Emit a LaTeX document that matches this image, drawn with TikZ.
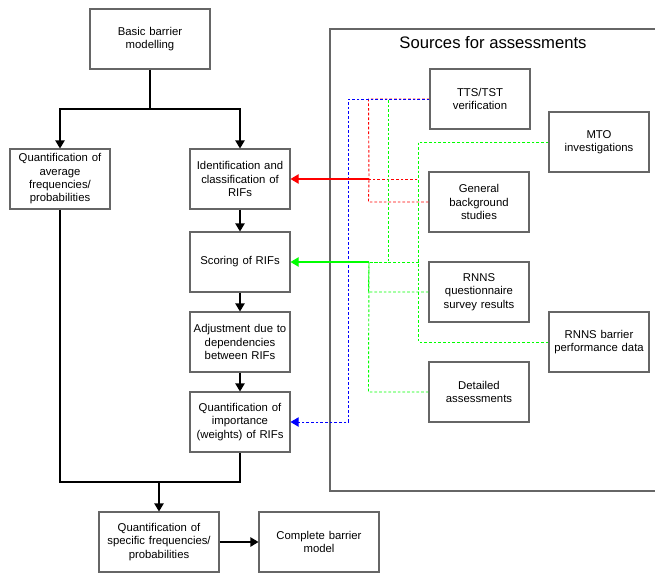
\documentclass[tikz,border=0pt]{standalone}
\usepackage{fontspec}
\setmainfont{Liberation Sans}
\usetikzlibrary{arrows.meta}
\begin{document}
\begin{tikzpicture}[x=0.75pt,y=-0.75pt,
  box/.style={draw=black!60,line width=0.8pt,fill=white,minimum width=75pt,minimum height=45pt,text width=72pt,align=center,inner sep=1pt,font=\fontsize{8.5}{10}\selectfont},
  widebox/.style={box,minimum width=90pt,text width=87pt},
  flow/.style={-{Triangle[length=6pt,width=7pt]},line width=0.8pt},
  src/.style={dash pattern=on 2pt off 1.5pt,line width=0.7pt},
  tip/.style={-{Triangle[length=6pt,width=7pt]}}]
	\useasboundingbox (0,0) rectangle (655,572);
	\definecolor{srcgreen}{RGB}{0,255,0}

	% sources frame
	\draw[black!60,line width=0.8pt] (330,29) rectangle (680,491);
	\node[font=\fontsize{12.5}{14}\selectfont] (title) at (493,43) {Sources for assessments};

	% main chain
	\node[widebox] (basic) at (150,39) {Basic barrier\\ modelling};
	\node[box] (avg) at (60,179) {Quantification of\\ average\\ frequencies/\\ probabilities};
	\node[box] (ident) at (240,179) {Identification and\\ classification of\\ RIFs};
	\node[box] (score) at (240,262) {Scoring of RIFs};
	\node[box] (adjust) at (240,342) {Adjustment due to\\ dependencies\\ between RIFs};
	\node[box] (weight) at (240,422) {Quantification of\\ importance\\ (weights) of RIFs};
	\node[widebox] (specific) at (159,542) {Quantification of\\ specific frequencies/\\ probabilities};
	\node[widebox] (complete) at (319,542) {Complete barrier\\ model};

	% sources
	\node[box] (tts) at (480,99) {TTS/TST\\ verification};
	\node[box] (general) at (479,202) {General\\ background\\ studies};
	\node[box] (rnnsq) at (479,292) {RNNS\\ questionnaire\\ survey results};
	\node[box] (detailed) at (479,392) {Detailed\\ assessments};
	\node[box] (mto) at (599,142) {MTO\\ investigations};
	\node[box] (rnnsb) at (599,342) {RNNS barrier\\ performance data};

	% black connectors
	\coordinate (split) at (150,109);
	\coordinate (merge) at (159,482);
	\draw[line width=0.8pt] (basic.south) -- (split);
	\draw[flow] (split) -| (avg.north);
	\draw[flow] (split) -| (ident.north);
	\draw[flow] (ident) -- (score);
	\draw[flow] (score) -- (adjust);
	\draw[flow] (adjust) -- (weight);
	\draw[line width=0.8pt] (avg.south) |- (merge) -| (weight.south);
	\draw[flow] (merge) -- (specific.north);
	\draw[flow] (specific) -- (complete);

	% red: into identification
	\coordinate (redjoin) at (369,179);
	\draw[src,red] (tts.west) -- ++(-61,0) -- (redjoin);
	\draw[src,red] (general.west) -- ++(-60,0) -- (redjoin);
	\draw[src,red] (mto.west) -- ++(-130,0) |- (redjoin);

	% green: into scoring
	\coordinate (greenjoin) at (369,262);
	\draw[src,srcgreen] (tts.west) -- ++(-41,0) |- (greenjoin);
	\draw[src,srcgreen] (mto.west) -- ++(-130,0) |- (rnnsb.west);
	\draw[src,srcgreen] (419,262) -- (greenjoin);
	\draw[src,srcgreen] (rnnsq.west) -- ++(-60,0) -- (greenjoin);
	\draw[src,srcgreen] (detailed.west) -- ++(-60,0) -- (greenjoin);

	% blue: into weights
	\draw[src,blue,tip] (tts.west) -- ++(-81,0) |- (weight.east);

	\draw[red,line width=0.8pt,tip] (redjoin) -- (ident.east);
	\draw[srcgreen,line width=0.8pt,tip] (greenjoin) -- (score.east);
\end{tikzpicture}
\end{document}
